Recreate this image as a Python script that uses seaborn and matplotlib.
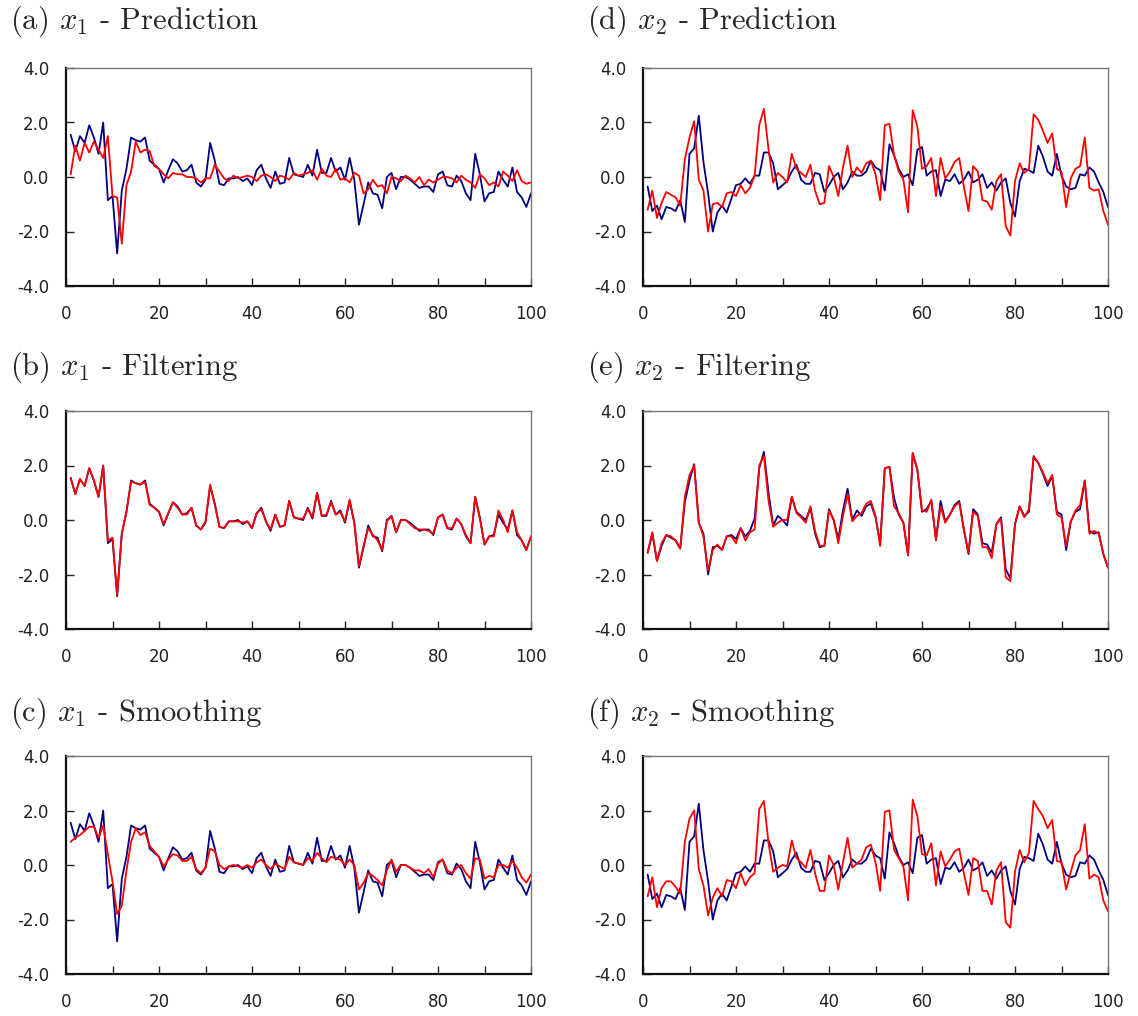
import numpy as np
import pandas as pd
import matplotlib
matplotlib.use("Agg")
import matplotlib.pyplot as plt
import seaborn as sns

sns.set_theme(style="white")
plt.rcParams['font.family'] = ['DejaVu Sans']
plt.rcParams['mathtext.fontset'] = 'cm'
plt.rcParams['axes.unicode_minus'] = False

# time steps
t = list(range(1, 101))

# x1: true state (blue in a, b, c)
x1_true = [
    1.55, 0.95, 1.5, 1.25, 1.9, 1.45, 0.85, 2.0, -0.85, -0.7,
    -2.8, -0.5, 0.3, 1.45, 1.35, 1.3, 1.45, 0.6, 0.45, 0.3,
    -0.2, 0.25, 0.65, 0.5, 0.2, 0.25, 0.45, -0.2, -0.35, -0.1,
    1.25, 0.6, -0.25, -0.3, -0.05, -0.05, 0.0, -0.15, -0.05, -0.3,
    0.25, 0.45, -0.05, -0.4, 0.2, -0.25, -0.2, 0.7, 0.1, 0.05,
    0.0, 0.45, 0.05, 1.0, 0.15, 0.15, 0.7, 0.2, 0.35, -0.1,
    0.7, -0.1, -1.75, -1.0, -0.2, -0.6, -0.65, -1.15, 0.0, 0.15,
    -0.45, 0.0, 0.0, -0.1, -0.25, -0.4, -0.35, -0.35, -0.55, 0.1,
    0.2, -0.3, -0.35, 0.05, -0.15, -0.6, -0.85, 0.85, 0.1, -0.9,
    -0.6, -0.55, 0.2, -0.1, -0.35, 0.35, -0.55, -0.75, -1.1, -0.6,
]

x1_pred = [
    0.1, 1.15, 0.6, 1.25, 0.9, 1.3, 1.0, 0.7, 1.5, -0.7,
    -0.75, -2.45, -0.3, 0.2, 1.3, 0.9, 1.0, 0.95, 0.4, 0.3,
    0.1, -0.05, 0.15, 0.1, 0.1, 0.0, 0.0, -0.05, -0.2, -0.05,
    -0.05, 0.45, 0.2, -0.05, -0.15, 0.05, -0.05, 0.0, 0.05, 0.0,
    -0.15, 0.05, 0.1, 0.0, -0.15, 0.05, 0.0, -0.1, 0.15, 0.05,
    0.1, 0.15, 0.25, -0.1, 0.3, 0.05, 0.0, 0.3, -0.1, -0.05,
    -0.2, 0.15, 0.05, -0.6, -0.45, -0.1, -0.35, -0.3, -0.6, 0.0,
    -0.05, -0.15, 0.05, -0.05, -0.2, 0.0, -0.3, -0.1, -0.2, -0.1,
    0.0, 0.0, -0.05, -0.2, 0.05, -0.1, -0.2, -0.4, 0.1, -0.05,
    -0.3, -0.2, -0.35, 0.2, 0.05, -0.15, 0.25, -0.15, -0.25, -0.2,
]

x1_filt = [
    1.55, 0.95, 1.5, 1.25, 1.9, 1.45, 0.85, 2.0, -0.75, -0.65,
    -2.75, -0.5, 0.3, 1.4, 1.35, 1.3, 1.4, 0.55, 0.45, 0.3,
    -0.15, 0.25, 0.65, 0.45, 0.2, 0.2, 0.45, -0.2, -0.35, -0.05,
    1.3, 0.55, -0.25, -0.3, -0.05, -0.05, -0.05, -0.1, -0.05, -0.3,
    0.25, 0.4, -0.05, -0.35, 0.2, -0.25, -0.2, 0.7, 0.1, 0.05,
    0.05, 0.4, 0.1, 1.0, 0.15, 0.2, 0.65, 0.2, 0.3, -0.05,
    0.75, -0.1, -1.7, -0.95, -0.3, -0.55, -0.75, -1.1, -0.05, 0.15,
    -0.45, 0.0, 0.0, -0.15, -0.3, -0.35, -0.35, -0.4, -0.5, 0.1,
    0.2, -0.3, -0.3, 0.05, -0.15, -0.55, -0.85, 0.85, 0.05, -0.9,
    -0.6, -0.6, 0.35, 0.0, -0.45, 0.35, -0.45, -0.75, -1.1, -0.6,
]

x1_smooth = [
    0.85, 1.0, 1.1, 1.25, 1.4, 1.4, 1.0, 1.45, 0.4, -0.6,
    -1.8, -1.5, -0.2, 0.85, 1.35, 1.1, 1.2, 0.7, 0.5, 0.3,
    -0.05, 0.2, 0.4, 0.35, 0.15, 0.15, 0.3, -0.15, -0.3, -0.1,
    0.6, 0.5, 0.0, -0.15, -0.05, 0.0, -0.05, -0.1, 0.0, -0.1,
    0.1, 0.2, 0.0, -0.15, 0.05, -0.05, -0.15, 0.3, 0.1, 0.05,
    0.0, 0.25, 0.15, 0.45, 0.25, 0.1, 0.3, 0.25, 0.2, 0.0,
    0.2, 0.0, -0.9, -0.65, -0.3, -0.4, -0.55, -0.75, -0.2, 0.2,
    -0.25, 0.0, 0.0, -0.1, -0.2, -0.2, -0.3, -0.15, -0.45, 0.05,
    0.2, -0.2, -0.3, -0.1, 0.0, -0.3, -0.5, 0.25, 0.2, -0.5,
    -0.4, -0.45, 0.0, 0.0, -0.1, 0.15, -0.1, -0.45, -0.65, -0.35,
]

# x2: blue series of (d) and (f)
x2_blue = [
    -0.35, -1.25, -1.05, -1.55, -1.1, -1.15, -1.25, -0.85, -1.65, 0.85,
    1.05, 2.25, 0.55, -0.6, -2.0, -1.3, -1.05, -1.3, -0.8, -0.3,
    -0.25, -0.05, -0.25, 0.05, 0.05, 0.9, 0.9, 0.5, -0.45, -0.3,
    -0.15, 0.2, 0.45, -0.1, -0.25, -0.25, 0.15, 0.1, -0.55, -0.3,
    0.0, 0.15, -0.45, -0.2, 0.2, 0.05, 0.05, 0.2, 0.6, 0.35,
    0.25, -0.5, 1.2, 0.8, 0.3, 0.0, 0.1, -0.3, 1.0, 1.1,
    0.05, 0.2, 0.25, -0.7, -0.1, -0.15, 0.1, -0.25, -0.1, 0.2,
    -0.2, -0.1, 0.1, -0.4, -0.2, -0.5, -0.2, -0.05, -0.95, -1.45,
    -0.15, 0.3, 0.25, 0.15, 1.15, 0.75, 0.2, 0.05, 0.85, 0.05,
    -0.35, -0.45, -0.4, 0.1, 0.05, 0.35, 0.2, -0.2, -0.55, -1.1,
]

# x2: true state (red in d, blue in e)
x2_true = [
    -1.2, -0.5, -1.5, -0.95, -0.55, -0.65, -0.75, -1.05, 0.65, 1.45,
    2.05, -0.1, -0.5, -2.0, -1.0, -0.95, -1.1, -0.6, -0.55, -0.7,
    -0.3, -0.6, -0.4, 0.05, 1.9, 2.5, 1.0, -0.2, 0.15, 0.0,
    -0.2, 0.85, 0.3, 0.15, 0.0, 0.45, -0.5, -1.0, -0.95, 0.4,
    0.0, -0.7, 0.35, 1.15, 0.0, 0.35, 0.15, 0.5, 0.6, 0.1,
    -0.85, 1.9, 1.95, 0.8, 0.2, -0.1, -1.3, 2.45, 1.85, 0.3,
    0.4, 0.7, -0.7, 0.7, -0.05, 0.2, 0.55, 0.7, -0.35, -1.25,
    0.4, 0.2, -0.85, -0.9, -1.2, -0.15, 0.1, -1.8, -2.15, -0.15,
    0.5, 0.15, 0.3, 2.3, 2.1, 1.7, 1.25, 1.6, 0.3, 0.2,
    -1.1, -0.05, 0.3, 0.4, 1.45, -0.4, -0.5, -0.45, -1.25, -1.75,
]

x2_filt = [
    -1.2, -0.45, -1.5, -0.85, -0.55, -0.6, -0.75, -1.05, 0.85, 1.65,
    2.0, -0.1, -0.6, -1.85, -1.1, -0.9, -1.1, -0.6, -0.6, -0.85,
    -0.3, -0.75, -0.45, -0.35, 2.0, 2.35, 0.7, -0.25, -0.1, 0.0,
    0.0, 0.85, 0.25, 0.1, -0.1, 0.5, -0.4, -0.95, -0.95, 0.35,
    0.0, -0.85, 0.15, 0.95, -0.05, 0.15, 0.25, 0.6, 0.7, 0.15,
    -0.95, 1.9, 1.95, 0.5, 0.25, -0.1, -1.3, 2.45, 1.85, 0.35,
    0.3, 0.75, -0.75, 0.5, -0.1, 0.2, 0.5, 0.65, -0.35, -1.2,
    0.3, 0.15, -1.0, -1.0, -1.4, -0.15, 0.05, -2.1, -2.25, -0.15,
    0.5, 0.1, 0.4, 2.35, 2.1, 1.75, 1.35, 1.65, 0.2, 0.1,
    -0.95, -0.05, 0.35, 0.55, 1.45, -0.5, -0.4, -0.5, -1.25, -1.75,
]

x2_smooth = [
    -1.15, -0.45, -1.55, -0.85, -0.6, -0.6, -0.8, -1.05, 0.85, 1.7,
    2.0, -0.15, -0.75, -1.85, -1.2, -0.85, -1.15, -0.55, -0.6, -0.85,
    -0.3, -0.75, -0.45, -0.3, 2.05, 2.35, 0.8, -0.25, -0.1, 0.0,
    -0.05, 0.9, 0.25, 0.1, -0.1, 0.55, -0.3, -0.95, -0.95, 0.35,
    0.0, -0.9, 0.1, 1.0, -0.1, 0.05, 0.2, 0.65, 0.75, 0.1,
    -0.95, 1.95, 2.0, 0.55, 0.25, -0.05, -1.3, 2.4, 1.8, 0.4,
    0.35, 0.8, -0.75, 0.5, -0.05, 0.2, 0.5, 0.6, -0.3, -1.1,
    0.25, 0.15, -0.95, -0.95, -1.45, -0.2, 0.1, -2.1, -2.3, -0.25,
    0.55, 0.1, 0.45, 2.35, 2.05, 1.8, 1.35, 1.65, 0.15, 0.1,
    -0.9, -0.25, 0.35, 0.55, 1.5, -0.5, -0.35, -0.45, -1.3, -1.7,
]

y_ticks = [-4, -2, 0, 2, 4]
y_tick_labels = ['-4.0', '-2.0', '0.0', '2.0', '4.0']
x_ticks = [0, 20, 40, 60, 80, 100]
x_tick_labels = ['0', '20', '40', '60', '80', '100']

titles = [
    '(a) $x_1$ - Prediction', '(b) $x_1$ - Filtering', '(c) $x_1$ - Smoothing',
    '(d) $x_2$ - Prediction', '(e) $x_2$ - Filtering', '(f) $x_2$ - Smoothing',
]
blue_series = [x1_true, x1_true, x1_true, x2_blue, x2_true, x2_blue]
red_series = [x1_pred, x1_filt, x1_smooth, x2_true, x2_filt, x2_smooth]

W, H = 1138, 1016
fig = plt.figure(figsize=(W / 100, H / 100), dpi=100)

col_left = [66, 643]
row_top = [68, 411, 756]
title_x = [10, 587]
title_y = [21, 367, 713]
ax_w, ax_h = 465, 218

for k in range(6):
    col, row = k // 3, k % 3
    ax = fig.add_axes([col_left[col] / W, 1 - (row_top[row] + ax_h) / H,
                       ax_w / W, ax_h / H])
    df = pd.DataFrame({'t': t, 'blue': blue_series[k], 'red': red_series[k]})
    sns.lineplot(data=df, x='t', y='blue', color='#000080', linewidth=1.3, ax=ax)
    sns.lineplot(data=df, x='t', y='red', color='#ff0000', linewidth=1.3, ax=ax)

    ax.set_xlim(0, 100)
    ax.set_ylim(-4, 4)
    ax.set_xticks(x_ticks)
    ax.set_xticklabels(x_tick_labels)
    ax.set_xticks(range(0, 101, 10), minor=True)
    ax.set_yticks(y_ticks)
    ax.set_yticklabels(y_tick_labels)
    ax.set_xlabel('')
    ax.set_ylabel('')
    ax.tick_params(which='both', direction='in', length=6, width=1,
                   color='#222222', labelsize=12, labelcolor='#222222')
    ax.tick_params(axis='x', which='both', pad=14, bottom=True)
    ax.tick_params(axis='y', which='both', pad=12, left=True)

    for side in ['left', 'bottom']:
        ax.spines[side].set_color('#111111')
        ax.spines[side].set_linewidth(1.6)
    for side in ['top', 'right']:
        ax.spines[side].set_color('#777777')
        ax.spines[side].set_linewidth(1.0)

    fig.text(title_x[col] / W, 1 - title_y[row] / H, titles[k],
             family='cmr10', fontsize=22, ha='left', va='center')

fig.savefig('out.png', dpi=100)
